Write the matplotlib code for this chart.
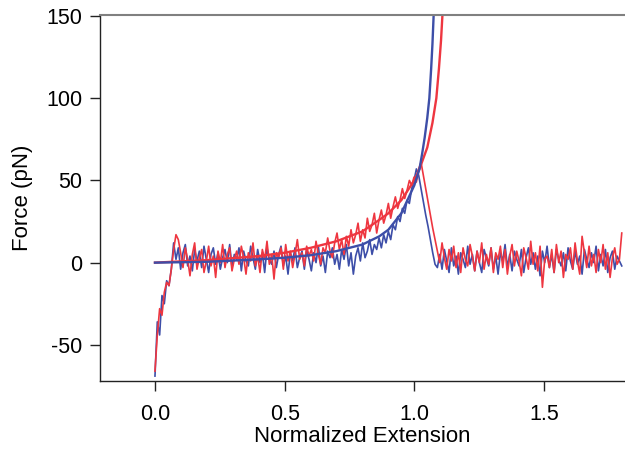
import numpy as np
import matplotlib.pyplot as plt

plt.rcParams['font.family'] = ['Liberation Sans', 'DejaVu Sans']
plt.rcParams['axes.unicode_minus'] = False

# sampling of the force traces (normalized extension)
ext_start = 0.0
ext_step = 0.009

# blue trace, force in pN
blue_force = [
    -69, -36, -44, -20, -25, -11, -14, -4, 12,
    2, 9, -4, 6, 11, -2, 4, -5, 8, 1, 7,
    -3, 10, 2, -6, 5, 9, -1, 6, -4, 3, 8,
    0, 11, -3, 5, 2, 9, -5, 7, 1, -2, 10,
    3, -4, 8, 0, 6, -6, 9, 2, -1, 7, -3,
    5, 10, -2, 4, -7, 6, 1, 9, -3, 3, 7,
    -4, 8, 2, -5, 6, 0, 10, -2, 4, -6, 7,
    3, 9, -1, 5, -4, 8, 2, 11, -2, 6, -7,
    4, 9, 1, 12, 3, 7, 14, 5, 11, 8, 15,
    9, 17, 12, 19, 14, 23, 20, 28, 25, 33, 30,
    38, 36, 45, 50, 57,
    53, 45, 37, 29, 22, 14, 6, -1, -3,
    5, -4, 8, 1, -6, 9, -2, 4, -7, 6, 2,
    -3, 10, -1, 5, -5, 7, 0, -6, 8, 3, -2,
    9, -4, 4, -7, 6, 1, 11, -3, 5, -5, 7,
    2, -2, 8, -6, 3, 9, -1, 6, -4, 4, -8,
    7, 0, 10, -3, 5, -6, 8, 2, -2, 6, -5,
    9, 1, -4, 7, -1, 4, -7, 8, 2, -3, 6,
    0, 10, -5, 5, -2, 8, -6, 3, 7, -4, 4, 1, -2,
]

# red trace, force in pN
red_force = [
    -66, -44, -28, -32, -18, -12, -14, -4, 8,
    17, 14, 6, -3, 9, 2, -8, 5, 12, -4, 3,
    8, -6, 1, 10, -2, 4, -9, 7, 0, 11, -3,
    5, 9, -5, 2, 7, -1, 10, 3, -7, 6, 1,
    12, -2, 4, -6, 8, 2, 13, -1, 5, -10, 6,
    3, 9, -4, 11, 1, 7, -3, 5, 14, 2, 6,
    -2, 10, 4, 8, 1, 13, 5, -1, 9, 6, 15,
    7, 3, 12, 18, 8, 14, 5, 16, 10, 20, 12,
    17, 24, 13, 20, 15, 27, 19, 23, 30, 18, 26,
    32, 24, 29, 36, 27, 34, 40, 33, 38, 45, 39,
    44, 50, 47, 52, 49, 57, 61,
    53, 45, 37, 29, 21, 14, 7, 0,
    12, 3, -4, 8, 1, 10, -3, 6, -6, 9, 2,
    -2, 11, 4, -5, 7, 0, 12, -4, 5, -1, 9,
    -6, 6, 2, 10, -3, 8, -7, 4, 11, -2, 7,
    1, -8, 9, 3, -4, 13, -1, 6, -5, 10, -15,
    2, 4, -3, 8, -6, 11, 0, 7, -9, 5, 2,
    9, -4, 12, 1, -7, 16, 6, -3, 10, -2, 5,
    -6, 8, 0, 11, -4, 6, -9, 3, 9, -1, 2, 18,
]

# WLC fits
blue_fit_ext = [0.0, 0.2, 0.4, 0.5, 0.6, 0.7, 0.8, 0.865, 0.9, 0.95, 1.0,
                1.02, 1.03, 1.04, 1.05, 1.058, 1.065, 1.07, 1.075]
blue_fit_force = [0, 0.5, 2, 3, 4.5, 7, 11, 16, 20, 30, 47,
                  57, 66, 76, 88, 100, 118, 133, 152]
red_fit_ext = [0.0, 0.2, 0.4, 0.5, 0.6, 0.7, 0.8, 0.865, 0.9, 0.95, 1.0,
               1.02, 1.05, 1.07, 1.085, 1.095, 1.103, 1.109]
red_fit_force = [0, 1.5, 4, 6, 9, 13, 19, 26, 30, 38, 50,
                 57, 70, 85, 100, 118, 135, 152]

red = '#ee3640'
blue = '#3d4ea8'

blue_ext = ext_start + ext_step * np.arange(len(blue_force))
red_ext = ext_start + ext_step * np.arange(len(red_force))

fig = plt.figure(figsize=(6.25, 4.49), dpi=100)
ax = fig.add_axes([0.16, 0.1514, 0.84, 0.8152])

ax.plot(blue_ext, blue_force, color=blue, lw=1.2)
ax.plot(red_ext, red_force, color=red, lw=1.2)
ax.plot(red_fit_ext, red_fit_force, color=red, lw=1.7)
ax.plot(blue_fit_ext, blue_fit_force, color=blue, lw=1.7)

ax.set_xlim(-0.212, 1.8125)
ax.set_ylim(-72, 150.6)
ax.set_xticks([0.0, 0.5, 1.0, 1.5])
ax.set_xticklabels(['0.0', '0.5', '1.0', '1.5'])
ax.set_yticks([-50, 0, 50, 100, 150])

ax.spines['right'].set_visible(False)
ax.spines['top'].set_color('#808080')
ax.spines['top'].set_linewidth(1.5)
for s in ['left', 'bottom']:
    ax.spines[s].set_color('#222222')
    ax.spines[s].set_linewidth(1.0)
ax.tick_params(direction='out', length=7.5, width=1.0, labelsize=15.5,
               color='#222222')
ax.tick_params(axis='x', pad=9)
ax.tick_params(axis='y', pad=5)

ax.set_xlabel('Normalized Extension', fontsize=16, labelpad=1)
ax.set_ylabel('Force (pN)', fontsize=16, labelpad=10)

fig.savefig('out.png', dpi=100)
